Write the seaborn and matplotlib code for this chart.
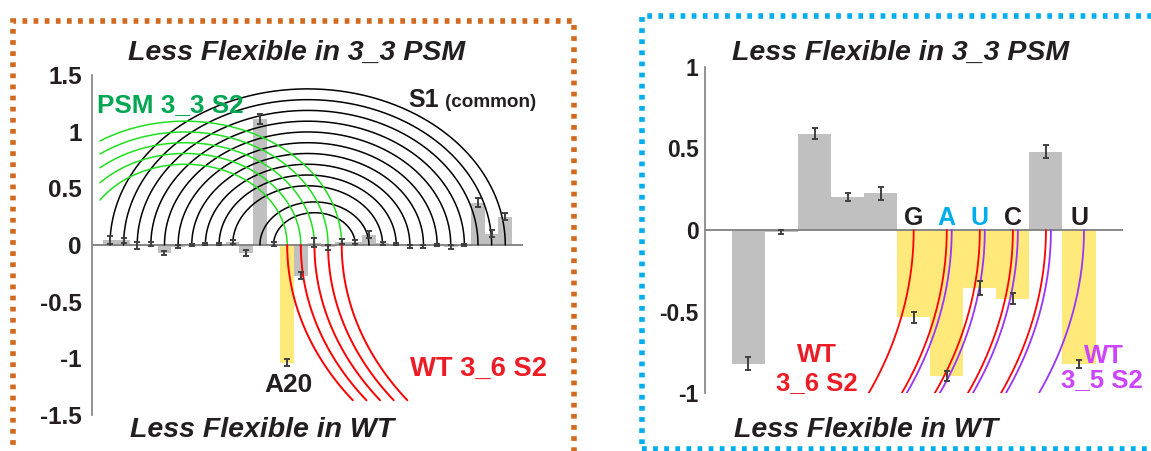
import numpy as np
import pandas as pd
import matplotlib
matplotlib.use("Agg")
import matplotlib.pyplot as plt
import seaborn as sns
from matplotlib.patches import Rectangle

# ---- data: left panel (30 nucleotides) ----
left_pos = list(range(1, 31))
left_vals = [0.045, 0.04, -0.005, 0.01, -0.07, -0.015, 0.0, 0.01, 0.01, 0.026,
             -0.07, 1.11, 0.01, -1.04, -0.27, 0.018, -0.02, 0.03, 0.025, 0.09,
             0.015, 0.01, -0.012, -0.012, 0.0, -0.018, 0.0, 0.375, 0.1, 0.25]
left_err = [0.035, 0.025, 0.03, 0.015, 0.02, 0.015, 0.01, 0.01, 0.01, 0.02,
            0.025, 0.045, 0.02, 0.03, 0.03, 0.04, 0.02, 0.02, 0.015, 0.03,
            0.015, 0.012, 0.012, 0.012, 0.012, 0.015, 0.012, 0.04, 0.03, 0.03]
left_kind = ["gray"] * 13 + ["yellow"] + ["gray"] * 16
left_ticks = [-1.5, -1, -0.5, 0, 0.5, 1, 1.5]
left_ticklabels = ["-1.5", "-1", "-0.5", "0", "0.5", "1", "1.5"]

# base-pair arcs (left panel)
s1_left_ends = [1, 2, 3, 4, 5, 6, 7, 8, 9, 10, 12, 13]
s1_right_ends = [30, 29, 28, 27, 26, 25, 24, 23, 22, 21, 20, 19]
psm_ends = [14, 15, 16, 17, 18]
psm_center = 6.5
wt36_left_starts = [14, 15, 16, 17, 18]

# ---- data: right panel (11 nucleotides) ----
right_pos = list(range(1, 12))
right_vals = [-0.82, -0.012, 0.59, 0.2, 0.225, -0.535, -0.895, -0.355, -0.42, 0.48, -0.82]
right_err = [0.04, 0.012, 0.035, 0.025, 0.04, 0.035, 0.03, 0.045, 0.035, 0.04, 0.025]
right_kind = ["gray"] * 5 + ["yellow"] * 4 + ["gray", "yellow"]
right_ticks = [-1, -0.5, 0, 0.5, 1]
right_ticklabels = ["-1", "-0.5", "0", "0.5", "1"]
letter_pos = [6, 7, 8, 9, 11]
letter_txt = ["G", "A", "U", "C", "U"]
letter_col = ["#231f20", "#00aeef", "#00aeef", "#231f20", "#231f20"]
wt36_right_starts = [6, 7, 8, 9, 10]
wt35_starts = [7, 8, 9, 10, 11]

GRAY = "#c0c0c0"
YELLOW = "#ffe97a"
DARK = "#231f20"
AXC = "#7f7f7f"
ERRC = "#404040"
palette = {"gray": GRAY, "yellow": YELLOW}

sns.set_style("white")
plt.rcParams["font.family"] = ["Liberation Sans", "DejaVu Sans"]

W, H = 1151, 451
fig = plt.figure(figsize=(W / 100, H / 100), dpi=100)


def fx(px):
    return px / W


def fy(py):
    return 1 - py / H


def draw_bars(ax, pos, vals, err, kind):
    df = pd.DataFrame({"pos": pos, "val": vals, "kind": kind})
    sns.barplot(data=df, x="pos", y="val", hue="kind", palette=palette, saturation=1,
                native_scale=True, width=1.0, dodge=False, errorbar=None,
                legend=False, linewidth=0, ax=ax, zorder=1)
    ax.axhline(0, color=AXC, lw=1.3, zorder=2)
    ax.errorbar(pos, vals, yerr=err, fmt="none", ecolor=ERRC, elinewidth=1.4,
                capsize=2.0, capthick=1.4, zorder=5)


def style_axis(ax, ticks, labels, size, pad):
    sns.despine(ax=ax, bottom=True)
    ax.spines["left"].set_color(AXC)
    ax.spines["left"].set_linewidth(1.2)
    ax.set_xticks([])
    ax.set_xlabel("")
    ax.set_ylabel("")
    ax.set_yticks(ticks)
    ax.set_yticklabels(labels, fontsize=size, fontweight="bold", color=DARK)
    ax.tick_params(axis="y", direction="in", length=4, width=1.2, color=AXC, pad=pad)


# ================= left panel =================
axl = fig.add_axes([fx(91.7), fy(415), fx(523 - 91.7), (415 - 75) / H])
draw_bars(axl, left_pos, left_vals, left_err, left_kind)
axl.set_xlim(-0.34, 31.3)
axl.set_ylim(-1.5, 1.5)
style_axis(axl, left_ticks, left_ticklabels, 17.5, 7)

RATIO = 0.095  # vertical semi-axis per bar of horizontal semi-axis

# S1 (common) arcs
t = np.linspace(0, np.pi, 300)
for a0, b0 in zip(s1_left_ends, s1_right_ends):
    c, a = (a0 + b0) / 2, (b0 - a0) / 2
    axl.plot(c + a * np.cos(t), RATIO * a * np.sin(t), color="black", lw=1.1, zorder=3)

# PSM 3_3 S2 arcs (clipped at the left)
for e in psm_ends:
    a = e - psm_center
    t0 = np.arccos((0.27 - psm_center) / a)
    tt = np.linspace(t0, 0, 200)
    axl.plot(psm_center + a * np.cos(tt), RATIO * a * np.sin(tt), color="#1fe01f", lw=1.1, zorder=3)

# WT 3_6 S2 arcs going down
A_red = 24.0
B_red = RATIO * A_red
tt = np.linspace(0, np.arcsin(1.37 / B_red), 200)
for s in wt36_left_starts:
    axl.plot(s + A_red - A_red * np.cos(tt), -B_red * np.sin(tt), color="#ff0000", lw=1.4, zorder=3)

axl.text(0.05, 1.177, "PSM 3_3 S2", color="#00a651", fontsize=18.8, fontweight="bold",
         ha="left", va="baseline")
axl.text(22.9, 1.22, "S1", color=DARK, fontsize=18, fontweight="bold", ha="left", va="baseline")
axl.text(25.6, 1.22, "(common)", color=DARK, fontsize=13.6, fontweight="bold", ha="left", va="baseline")
axl.text(23.0, -1.155, "WT 3_6 S2", color="#ed1c24", fontsize=19.7, fontweight="bold",
         ha="left", va="baseline")
axl.text(14.1, -1.30, "A20", color=DARK, fontsize=19, fontweight="bold", ha="center", va="baseline")

# ================= right panel =================
axr = fig.add_axes([fx(705.4), fy(393.3), fx(1123 - 705.4), (393.3 - 66.7) / H])
draw_bars(axr, right_pos, right_vals, right_err, right_kind)
axr.set_xlim(-0.3, 12.33)
axr.set_ylim(-1, 1)
style_axis(axr, right_ticks, right_ticklabels, 16.5, 5)

A_r, B_r = 15.0, 2.4
tt = np.linspace(0, np.arcsin(1.05 / B_r), 200)
for s in wt36_right_starts:
    axr.plot(s - A_r + A_r * np.cos(tt), -B_r * np.sin(tt), color="#ff0000", lw=1.3, zorder=3)
for s in wt35_starts:
    s2 = s + 0.15
    axr.plot(s2 - A_r + A_r * np.cos(tt), -B_r * np.sin(tt), color="#9933ff", lw=1.3, zorder=3)

for p, l, c in zip(letter_pos, letter_txt, letter_col):
    axr.text(p, 0.03, l, color=c, fontsize=18, fontweight="bold", ha="center", va="baseline")

axr.text(3.07, -0.806, "WT", color="#ed1c24", fontsize=18.5, fontweight="bold", ha="center", va="baseline")
axr.text(3.07, -0.98, "3_6 S2", color="#ed1c24", fontsize=18.5, fontweight="bold", ha="center", va="baseline")
axr.text(11.75, -0.815, "WT", color="#cc44ff", fontsize=18.5, fontweight="bold", ha="center",
         va="baseline", clip_on=False, zorder=6)
axr.text(11.7, -0.96, "3_5 S2", color="#cc44ff", fontsize=18.5, fontweight="bold", ha="center",
         va="baseline", clip_on=False, zorder=6)

# ---- headers / footers ----
title_kw = dict(fontsize=20.5, fontweight="bold", fontstyle="italic", color=DARK, va="baseline", ha="left")
fig.text(fx(128), fy(60), "Less Flexible in 3_3 PSM", **title_kw)
fig.text(fx(130), fy(437), "Less Flexible in WT", **title_kw)
fig.text(fx(731.7), fy(60), "Less Flexible in 3_3 PSM", **title_kw)
fig.text(fx(733.6), fy(436.7), "Less Flexible in WT", **title_kw)

# ---- dashed frames ----
dash = (0, (0.85, 1.15))
fig.add_artist(Rectangle((fx(12.5), fy(452.5)), fx(573.5 - 12.5), (452.5 - 21) / H,
                         transform=fig.transFigure, fill=False, edgecolor="#d2691e",
                         lw=4, linestyle=dash, capstyle="butt"))
fig.add_artist(Rectangle((fx(642), fy(448.5)), fx(1160 - 642), (448.5 - 16.3) / H,
                         transform=fig.transFigure, fill=False, edgecolor="#00aeef",
                         lw=4, linestyle=dash, capstyle="butt"))

fig.savefig("out.png", dpi=100)
